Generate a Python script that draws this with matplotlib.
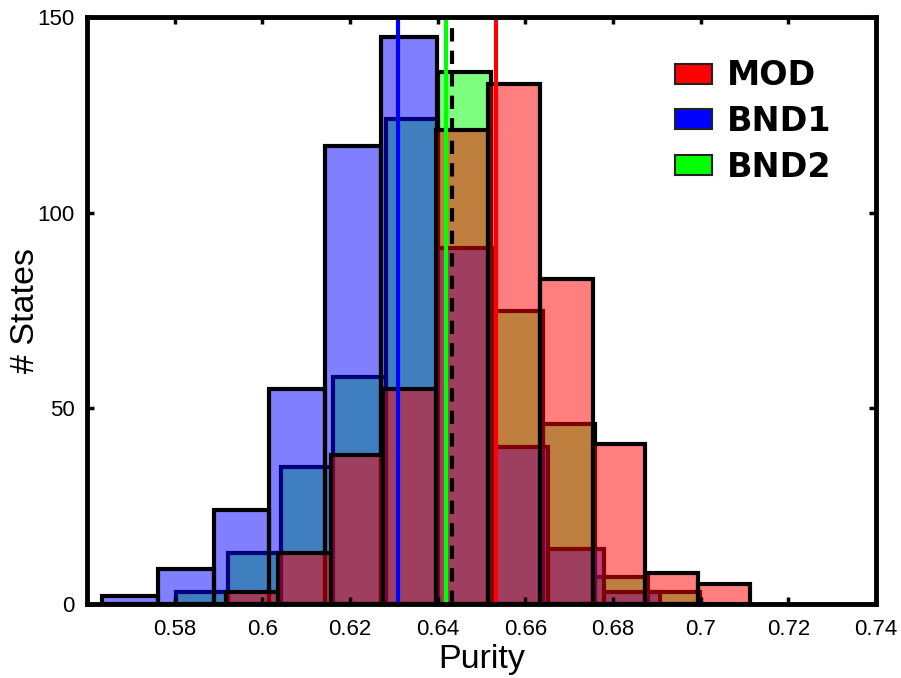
import numpy as np
import matplotlib
matplotlib.use("Agg")
import matplotlib.pyplot as plt
from matplotlib.patches import Patch
from matplotlib.colors import to_rgba

# Histogram counts per bin (10 bins each) and bin ranges
labels = ["MOD", "BND1", "BND2"]
colors = ["red", "blue", "lime"]

mod_counts = [3, 13, 38, 55, 121, 133, 83, 41, 8, 5]
bnd1_counts = [2, 9, 24, 55, 117, 145, 91, 40, 14, 3]
bnd2_counts = [3, 13, 35, 58, 124, 136, 75, 46, 7, 3]

mod_range = (0.5917, 0.7113)
bnd1_range = (0.5634, 0.6907)
bnd2_range = (0.5803, 0.6999)

# Mean purity markers
mod_mean = 0.6532
bnd1_mean = 0.6310
bnd2_mean = 0.6420
ref_value = 0.6432

x_ticks = [0.58, 0.60, 0.62, 0.64, 0.66, 0.68, 0.70, 0.72, 0.74]
x_tick_labels = ["0.58", "0.6", "0.62", "0.64", "0.66", "0.68", "0.7", "0.72", "0.74"]
y_ticks = [0, 50, 100, 150]

plt.rcParams["font.family"] = ["Liberation Sans", "DejaVu Sans"]

fig = plt.figure(figsize=(9.01, 6.78), dpi=100)
ax = fig.add_axes([87 / 901, 74 / 678, 789 / 901, 587 / 678])


def draw_hist(counts, rng, color):
    edges = np.linspace(rng[0], rng[1], len(counts) + 1)
    ax.hist(edges[:-1], bins=edges, weights=counts,
            facecolor=to_rgba(color, 0.5), edgecolor="black", linewidth=3)


# BND2 first, then BND1, then MOD on top
draw_hist(bnd2_counts, bnd2_range, "lime")
draw_hist(bnd1_counts, bnd1_range, "blue")
draw_hist(mod_counts, mod_range, "red")

ax.axvline(bnd1_mean, color="blue", linewidth=3)
ax.axvline(ref_value, color="black", linewidth=3, linestyle=(0, (3.2, 2.2)))
ax.axvline(bnd2_mean, color="lime", linewidth=3)
ax.axvline(mod_mean, color="red", linewidth=3)

ax.set_xlim(0.56, 0.74)
ax.set_ylim(0, 150)
ax.set_xticks(x_ticks)
ax.set_xticklabels(x_tick_labels)
ax.set_yticks(y_ticks)

ax.tick_params(axis="both", which="both", direction="in", top=True, right=True,
               length=5, width=2.5, labelsize=16)
ax.tick_params(axis="x", pad=11)
ax.tick_params(axis="y", pad=9)
for sp in ax.spines.values():
    sp.set_linewidth(3.5)

ax.set_xlabel("Purity", fontsize=24.5, labelpad=3)
ax.set_ylabel("# States", fontsize=24.5, labelpad=-3)

handles = [Patch(facecolor=c, edgecolor="#222222", linewidth=1.5) for c in colors]
leg = ax.legend(handles, labels, loc="upper left", bbox_to_anchor=(662 / 901, 1 - 46 / 678),
                bbox_transform=fig.transFigure, frameon=False,
                prop={"family": "DejaVu Sans", "weight": "bold", "size": 24},
                handlelength=1.1, handleheight=0.55, handletextpad=0.45,
                labelspacing=0.38, borderaxespad=0, borderpad=0.4)

fig.savefig("out.png", dpi=100)
